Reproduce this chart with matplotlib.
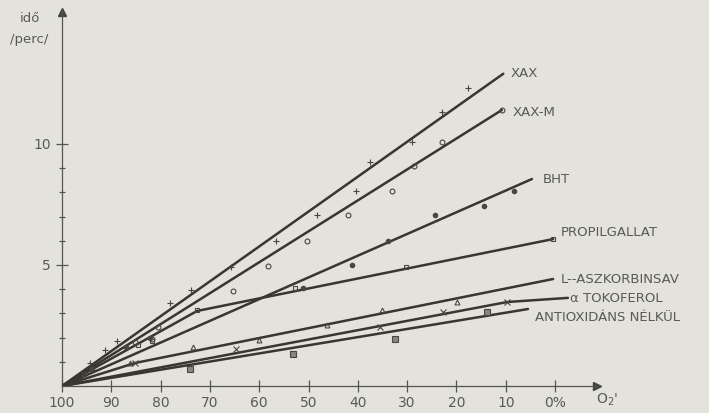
import numpy as np
import matplotlib.pyplot as plt

# oxigen % (x) es ido /perc/ (y), a kepről leolvasva
xax_line_x = [100, 10.5]
xax_line_y = [0, 12.9]
xax_x = [94.3, 91.3, 88.8, 78.1, 73.8, 65.7, 56.6, 48.3, 40.4, 37.5, 29.0, 22.9, 17.6]
xax_y = [0.95, 1.49, 1.86, 3.43, 3.95, 4.92, 6.0, 7.07, 8.06, 9.26, 10.1, 11.3, 12.3]

xaxm_line_x = [100, 10.8]
xaxm_line_y = [0, 11.4]
xaxm_x = [85.2, 81.7, 80.5, 65.3, 58.2, 50.3, 42.0, 33.1, 28.6, 22.9, 10.8]
xaxm_y = [1.82, 1.94, 2.44, 3.93, 4.96, 5.99, 7.07, 8.06, 9.09, 10.1, 11.4]

bht_line_x = [100, 4.7]
bht_line_y = [0, 8.55]
bht_x = [94.0, 87.0, 82.2, 51.1, 41.2, 33.9, 24.3, 14.4, 8.3]
bht_y = [0.7, 1.6, 1.98, 4.05, 5.0, 5.99, 7.07, 7.44, 8.06]

prop_line_x = [100, 72.6, 0.4]
prop_line_y = [0, 3.1, 6.07]
prop_x = [95.5, 84.5, 81.7, 72.6, 52.7, 30.2, 0.4]
prop_y = [0.5, 1.7, 1.86, 3.14, 4.05, 4.92, 6.07]

asz_line_x = [100, 85.2, 0.4]
asz_line_y = [0, 0.95, 4.42]
asz_x = [86.2, 73.4, 60.0, 46.2, 35.1, 19.9]
asz_y = [0.95, 1.63, 1.88, 2.52, 3.14, 3.47]

tok_line_x = [100, 9.7, -2.6]
tok_line_y = [0, 3.47, 3.64]
tok_x = [85.2, 64.8, 35.5, 22.7, 9.7]
tok_y = [0.95, 1.53, 2.44, 3.06, 3.47]

nelk_line_x = [100, 5.5]
nelk_line_y = [0, 3.18]
nelk_x = [74.0, 53.1, 32.5, 13.8]
nelk_y = [0.70, 1.32, 1.94, 3.06]

x_ticks = [100, 90, 80, 70, 60, 50, 40, 30, 20, 10, 0]
x_ticklabels = ['100', '90', '80', '70', '60', '50', '40', '30', '20', '10', '0%']

bg = '#e3e3db'
ink = '#3a3530'
txt = '#5a5a55'

fig = plt.figure(figsize=(7.09, 4.13), dpi=100, facecolor=bg)
ax = fig.add_axes([62/709, 27/413, 535/709, 374/413])
ax.set_facecolor(bg)
ax.set_xlim(100, -8.5)
ax.set_ylim(0, 15.45)

series = [
    (xax_line_x, xax_line_y, xax_x, xax_y, '+', 'XAX'),
    (xaxm_line_x, xaxm_line_y, xaxm_x, xaxm_y, 'o', 'XAX-M'),
    (bht_line_x, bht_line_y, bht_x, bht_y, '.', 'BHT'),
    (prop_line_x, prop_line_y, prop_x, prop_y, 's', 'PROPILGALLAT'),
    (asz_line_x, asz_line_y, asz_x, asz_y, '^', 'L--ASZKORBINSAV'),
    (tok_line_x, tok_line_y, tok_x, tok_y, 'x', 'α TOKOFEROL'),
    (nelk_line_x, nelk_line_y, nelk_x, nelk_y, 'X', 'ANTIOXIDÁNS NÉLKÜL'),
]

for lx, ly, px, py, m, name in series:
    ax.plot(lx, ly, color=ink, lw=1.8, solid_capstyle='round', zorder=3)
    if m in ('o', 's', '^'):
        ax.plot(px, py, m, ms=3.5, mfc='none', mec='#4a4540', mew=0.8, zorder=4)
    elif m == '.':
        ax.plot(px, py, 'o', ms=3, color='#4a4540', zorder=4)
    elif m == 'X':
        ax.plot(px, py, 's', ms=4, mfc='#8a8580', mec='#4a4540', mew=0.8, zorder=4)
    else:
        ax.plot(px, py, m, ms=5, color='#4a4540', mew=0.8, zorder=4)

# feliratok a vonalak vegen
fs = 9.5
ax.text(9.1, 12.9, 'XAX', fontsize=fs, color=txt, va='center')
ax.text(8.7, 11.3, 'XAX-M', fontsize=fs, color=txt, va='center')
ax.text(2.6, 8.55, 'BHT', fontsize=fs, color=txt, va='center')
ax.text(-1.1, 6.35, 'PROPILGALLAT', fontsize=fs, color=txt, va='center')
ax.text(-1.1, 4.4, 'L--ASZKORBINSAV', fontsize=fs, color=txt, va='center')
ax.text(-3.1, 3.6, 'α TOKOFEROL', fontsize=fs, color=txt, va='center')
ax.text(4.1, 2.85, 'ANTIOXIDÁNS NÉLKÜL', fontsize=fs, color=txt, va='center')

# tengelyek nyillal
for s in ['top', 'right']:
    ax.spines[s].set_visible(False)
for s in ['left', 'bottom']:
    ax.spines[s].set_color('#555550')
    ax.spines[s].set_linewidth(0.9)
ax.plot(0, 1, '^', color='#444440', ms=6, transform=ax.transAxes, clip_on=False)
ax.plot(1, 0, '>', color='#444440', ms=6, transform=ax.transAxes, clip_on=False)

ax.set_xticks(x_ticks)
ax.set_xticklabels(x_ticklabels)
ax.set_yticks([5, 10])
ax.set_yticks([1, 2, 3, 4, 6, 7, 8, 9], minor=True)
ax.tick_params(axis='both', which='major', direction='inout', length=8, width=0.9,
               colors='#555550', labelsize=10, labelcolor=txt)
ax.tick_params(axis='y', which='minor', direction='inout', length=5, width=0.9, colors='#555550')
ax.tick_params(axis='y', pad=4)

fig.text(20/709, 1 - 18/413, 'idő', fontsize=9.5, color=txt, va='center')
fig.text(10/709, 1 - 40/413, '/perc/', fontsize=9.5, color=txt, va='center')
fig.text(596/709, 1 - 400/413, "O$_2$'", fontsize=10, color=txt, va='center')

fig.savefig('out.png', dpi=100, facecolor=bg)
